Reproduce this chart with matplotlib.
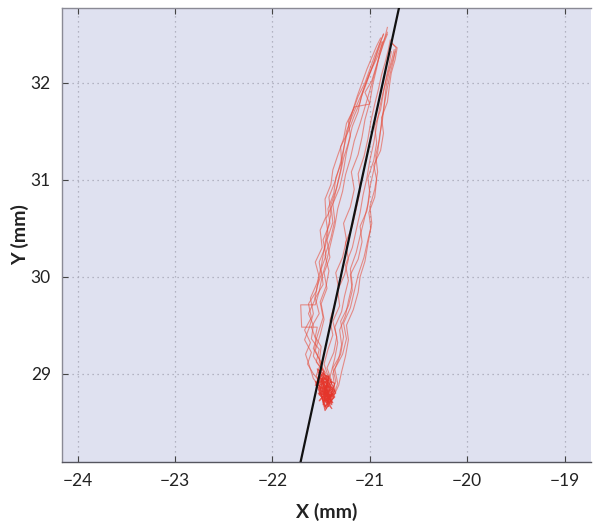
import matplotlib
matplotlib.use("Agg")
import matplotlib.pyplot as plt

# ---------------- data ----------------
x_ticks = [-24, -23, -22, -21, -20, -19]
y_ticks = [29, 30, 31, 32]
x_tick_labels = ["\u221224", "\u221223", "\u221222", "\u221221", "\u221220", "\u221219"]
y_tick_labels = ["29", "30", "31", "32"]
x_limits = (-24.16, -18.73)
y_limits = (28.09, 32.77)

# fitted black line (two points on it, beyond the visible frame)
fit_x = [-21.78, -20.63]
fit_y = [27.77, 33.10]

# repeated reach trajectories (mm)
traj_x = [
    [-21.50, -21.58, -21.62, -21.66, -21.61, -21.67, -21.60, -21.63, -21.55, -21.52, -21.56, -21.49, -21.51, -21.45,
     -21.46, -21.40, -21.38, -21.33, -21.27, -21.24, -21.17, -21.12, -21.05, -21.00, -20.95, -20.90, -20.86],
    [-21.46, -21.54, -21.50, -21.58, -21.55, -21.60, -21.52, -21.56, -21.48, -21.50, -21.45, -21.48, -21.41, -21.43,
     -21.37, -21.35, -21.29, -21.30, -21.22, -21.16, -21.10, -21.06, -21.00, -20.93, -20.88, -20.82],
    [-21.42, -21.48, -21.45, -21.52, -21.50, -21.56, -21.54, -21.70, -21.71, -21.56, -21.52, -21.49, -21.44, -21.40,
     -21.36, -21.33, -21.28, -21.25, -21.20, -21.16, -21.10, -21.05, -21.00, -20.95, -20.90, -20.85, -20.82],
    [-21.38, -21.32, -21.29, -21.25, -21.22, -21.24, -21.17, -21.12, -21.10, -21.05, -21.02, -20.99, -21.01, -20.95,
     -20.93, -20.96, -20.89, -20.86, -20.88, -20.82, -20.80, -20.78, -20.74, -20.72, -20.77],
    [-21.40, -21.35, -21.38, -21.30, -21.27, -21.30, -21.22, -21.18, -21.20, -21.12, -21.08, -21.10, -21.03, -21.00,
     -21.02, -20.96, -20.93, -20.95, -20.89, -20.86, -20.83, -20.80, -20.78],
    [-21.44, -21.50, -21.47, -21.55, -21.52, -21.60, -21.58, -21.63, -21.57, -21.54, -21.50, -21.52, -21.46, -21.43,
     -21.45, -21.38, -21.34, -21.30, -21.27, -21.22, -21.18, -21.12, -21.09, -21.04, -20.99, -20.94, -20.90, -20.86],
    [-21.40, -21.36, -21.38, -21.32, -21.29, -21.31, -21.25, -21.22, -21.18, -21.20, -21.14, -21.10, -21.06, -21.02,
     -21.00, -20.96, -20.92, -20.90, -20.87, -20.85, -20.83, -20.80, -20.76, -20.73, -20.78],
    [-21.46, -21.42, -21.47, -21.43, -21.38, -21.41, -21.36, -21.32, -21.35, -21.28, -21.24, -21.27, -21.20, -21.16,
     -21.19, -21.12, -21.08, -21.05, -21.00, -20.97, -20.93, -20.90, -20.87],
    [-21.48, -21.55, -21.50, -21.58, -21.53, -21.48, -21.51, -21.45, -21.42, -21.46, -21.40, -21.36, -21.38, -21.31,
     -21.27, -21.24, -21.20, -21.22, -21.16, -21.00, -21.05, -20.98, -20.94, -20.90, -20.86, -20.82],
    [-21.38, -21.33, -21.36, -21.28, -21.24, -21.27, -21.20, -21.16, -21.12, -21.06, -21.02, -20.98, -21.00, -20.95,
     -20.92, -20.94, -20.90, -20.88, -20.85, -20.82, -20.79, -20.76, -20.74],
    [-21.50, -21.58, -21.64, -21.60, -21.67, -21.62, -21.58, -21.61, -21.54, -21.50, -21.47, -21.44, -21.40, -21.42,
     -21.35, -21.30, -21.26, -21.22, -21.18, -21.13, -21.08, -21.03, -20.98, -20.93, -20.89],
    [-21.43, -21.39, -21.44, -21.37, -21.34, -21.38, -21.31, -21.33, -21.26, -21.22, -21.25, -21.18, -21.14, -21.10,
     -21.12, -21.06, -21.02, -20.99, -20.95, -20.91, -20.88, -20.84, -20.81, -20.79],
    [-21.46, -21.53, -21.49, -21.56, -21.51, -21.47, -21.50, -21.44, -21.47, -21.41, -21.44, -21.38, -21.40, -21.34,
     -21.30, -21.27, -21.24, -21.18, -21.12, -21.06, -21.01, -20.96, -20.92, -20.88],
    [-21.41, -21.45, -21.40, -21.36, -21.33, -21.36, -21.29, -21.26, -21.22, -21.25, -21.18, -21.14, -21.10, -21.07,
     -21.03, -21.00, -20.96, -20.93, -20.90, -20.86, -20.82, -20.78, -20.75],
]
traj_y = [
    [28.85, 28.95, 29.08, 29.20, 29.32, 29.45, 29.58, 29.72, 29.85, 30.00, 30.15, 30.30, 30.48, 30.62,
     30.80, 30.95, 31.10, 31.25, 31.42, 31.58, 31.72, 31.86, 32.00, 32.14, 32.28, 32.40, 32.50],
    [28.80, 28.92, 29.05, 29.18, 29.34, 29.48, 29.62, 29.78, 29.92, 30.08, 30.22, 30.38, 30.55, 30.70,
     30.86, 31.02, 31.18, 31.34, 31.50, 31.66, 31.80, 31.95, 32.10, 32.25, 32.38, 32.52],
    [28.74, 28.88, 29.00, 29.12, 29.28, 29.38, 29.48, 29.48, 29.71, 29.71, 29.85, 30.00, 30.18, 30.35,
     30.52, 30.70, 30.88, 31.05, 31.22, 31.40, 31.58, 31.75, 31.92, 32.10, 32.28, 32.45, 32.57],
    [28.75, 28.88, 29.02, 29.18, 29.35, 29.50, 29.66, 29.84, 30.00, 30.16, 30.34, 30.50, 30.66, 30.82,
     31.00, 31.15, 31.30, 31.48, 31.64, 31.80, 31.96, 32.10, 32.24, 32.36, 32.40],
    [28.78, 28.92, 29.06, 29.20, 29.38, 29.54, 29.70, 29.86, 30.02, 30.18, 30.36, 30.52, 30.68, 30.86,
     31.02, 31.20, 31.38, 31.55, 31.72, 31.90, 32.06, 32.20, 32.32],
    [28.78, 28.90, 29.02, 29.12, 29.25, 29.36, 29.50, 29.62, 29.75, 29.90, 30.02, 30.15, 30.30, 30.45,
     30.60, 30.75, 30.92, 31.08, 31.22, 31.38, 31.55, 31.70, 31.85, 31.98, 32.12, 32.27, 32.40, 32.50],
    [28.72, 28.85, 29.00, 29.15, 29.30, 29.45, 29.60, 29.75, 29.92, 30.08, 30.25, 30.42, 30.58, 30.75,
     30.92, 31.10, 31.28, 31.45, 31.62, 31.80, 31.98, 32.12, 32.25, 32.36, 32.42],
    [28.82, 28.95, 29.10, 29.25, 29.40, 29.55, 29.72, 29.88, 30.04, 30.20, 30.38, 30.55, 30.72, 30.90,
     31.08, 31.26, 31.44, 31.62, 31.80, 31.98, 32.15, 32.30, 32.42],
    [28.85, 28.98, 29.12, 29.26, 29.42, 29.58, 29.74, 29.90, 30.06, 30.22, 30.40, 30.58, 30.75, 30.92,
     31.10, 31.28, 31.45, 31.60, 31.75, 31.78, 31.90, 32.02, 32.15, 32.28, 32.40, 32.50],
    [28.75, 28.90, 29.05, 29.20, 29.36, 29.52, 29.68, 29.85, 30.02, 30.20, 30.38, 30.55, 30.72, 30.90,
     31.08, 31.25, 31.42, 31.60, 31.78, 31.95, 32.10, 32.22, 32.32],
    [28.90, 29.00, 29.10, 29.22, 29.35, 29.48, 29.62, 29.78, 29.94, 30.10, 30.28, 30.46, 30.64, 30.82,
     31.00, 31.18, 31.36, 31.54, 31.70, 31.86, 32.00, 32.14, 32.26, 32.38, 32.46],
    [28.78, 28.92, 29.06, 29.22, 29.38, 29.54, 29.70, 29.86, 30.02, 30.18, 30.35, 30.52, 30.70, 30.88,
     31.06, 31.24, 31.42, 31.60, 31.78, 31.94, 32.08, 32.22, 32.34, 32.44],
    [28.80, 28.94, 29.08, 29.24, 29.40, 29.56, 29.72, 29.88, 30.04, 30.20, 30.38, 30.56, 30.74, 30.92,
     31.10, 31.30, 31.50, 31.66, 31.80, 31.94, 32.08, 32.20, 32.32, 32.42],
    [28.72, 28.86, 29.00, 29.16, 29.32, 29.48, 29.64, 29.80, 29.96, 30.12, 30.30, 30.48, 30.66, 30.84,
     31.02, 31.20, 31.38, 31.56, 31.74, 31.92, 32.08, 32.22, 32.34],
]

# dense jitter near the start position (mm)
blob_x = [
    [-21.45, -21.52, -21.40, -21.50, -21.38, -21.55, -21.42, -21.48, -21.36, -21.50, -21.44, -21.39, -21.52, -21.46,
     -21.41, -21.48],
    [-21.47, -21.40, -21.53, -21.44, -21.36, -21.49, -21.42, -21.56, -21.45, -21.38, -21.51, -21.43, -21.47, -21.40,
     -21.54, -21.46],
    [-21.43, -21.49, -21.37, -21.46, -21.52, -21.41, -21.35, -21.47, -21.43, -21.50, -21.39, -21.45, -21.42, -21.48],
    [-21.44, -21.38, -21.48, -21.42, -21.36, -21.46, -21.40, -21.44, -21.37, -21.50, -21.41, -21.45, -21.39, -21.43],
    [-21.50, -21.44, -21.56, -21.47, -21.53, -21.42, -21.49, -21.55, -21.45, -21.51, -21.40, -21.47, -21.52, -21.44],
    [-21.41, -21.45, -21.39, -21.44, -21.40, -21.46, -21.38, -21.43, -21.41, -21.47, -21.42, -21.39],
]
blob_y = [
    [28.80, 28.72, 28.85, 28.95, 28.70, 28.88, 28.98, 28.68, 28.82, 29.00, 28.75, 28.92, 28.84, 28.66,
     28.78, 28.90],
    [28.86, 28.76, 28.80, 28.70, 28.90, 28.96, 28.74, 28.92, 28.64, 28.84, 28.78, 28.98, 28.72, 28.94,
     29.05, 28.82],
    [28.70, 28.82, 28.76, 28.62, 28.88, 28.94, 28.80, 28.72, 28.90, 28.78, 28.68, 28.86, 28.97, 28.74],
    [28.74, 28.80, 28.70, 28.84, 28.76, 28.66, 28.72, 28.88, 28.82, 28.78, 28.70, 28.76, 28.86, 28.80],
    [28.92, 28.98, 28.88, 29.02, 28.95, 28.85, 29.06, 28.90, 28.82, 28.96, 28.86, 29.00, 28.78, 28.88],
    [28.68, 28.74, 28.64, 28.70, 28.78, 28.72, 28.80, 28.66, 28.74, 28.82, 28.76, 28.70],
]

# ---------------- figure ----------------
W, H = 593, 525
fig = plt.figure(figsize=(W / 100, H / 100), dpi=100)
ax = fig.add_axes([62 / W, 1 - 462 / H, (591 - 62) / W, (462 - 8) / H])
ax.set_facecolor("#dfe1f0")

for xs, ys in zip(traj_x, traj_y):
    ax.plot(xs, ys, color="#e6503f", alpha=0.6, lw=0.8, zorder=3)
for xs, ys in zip(blob_x, blob_y):
    ax.plot(xs, ys, color="#e5352a", alpha=0.75, lw=0.8, zorder=3)

ax.plot(fit_x, fit_y, color="#111111", lw=1.6, zorder=4)

ax.set_xlim(*x_limits)
ax.set_ylim(*y_limits)
ax.set_xticks(x_ticks)
ax.set_xticklabels(x_tick_labels)
ax.set_yticks(y_ticks)
ax.set_yticklabels(y_tick_labels)

ax.grid(True, linestyle=(0, (1, 3)), color="#a4a4b4", lw=0.9)
ax.set_axisbelow(True)

ax.spines["right"].set_visible(False)
ax.spines["top"].set_color("#8a8a95")
ax.spines["bottom"].set_color("#55555f")
ax.spines["left"].set_color("#8a8a95")
for s in ["top", "bottom", "left"]:
    ax.spines[s].set_linewidth(1.0)

ax.tick_params(axis="x", direction="in", top=True, length=4, color="#444444",
               labelsize=12.5, pad=8, labelcolor="#222222")
ax.tick_params(axis="y", direction="in", length=4, color="#444444",
               labelsize=12.5, pad=8, labelcolor="#222222")
for lab in ax.get_xticklabels() + ax.get_yticklabels():
    lab.set_family("Lato")

ax.set_xlabel("X (mm)", fontsize=14, fontweight="bold", family="Lato", color="#222222")
ax.set_ylabel("Y (mm)", fontsize=14, fontweight="bold", family="Lato", color="#222222")
# label centres: Y label at x ~ 20 px, X label at y ~ 512 px
ax.yaxis.set_label_coords((20 - 62) / (591 - 62), 0.5)
ax.xaxis.set_label_coords(0.5, -(512 - 462) / (462 - 8))
ax.yaxis.label.set_verticalalignment("center")
ax.xaxis.label.set_verticalalignment("center")

fig.savefig("out.png", dpi=100)
